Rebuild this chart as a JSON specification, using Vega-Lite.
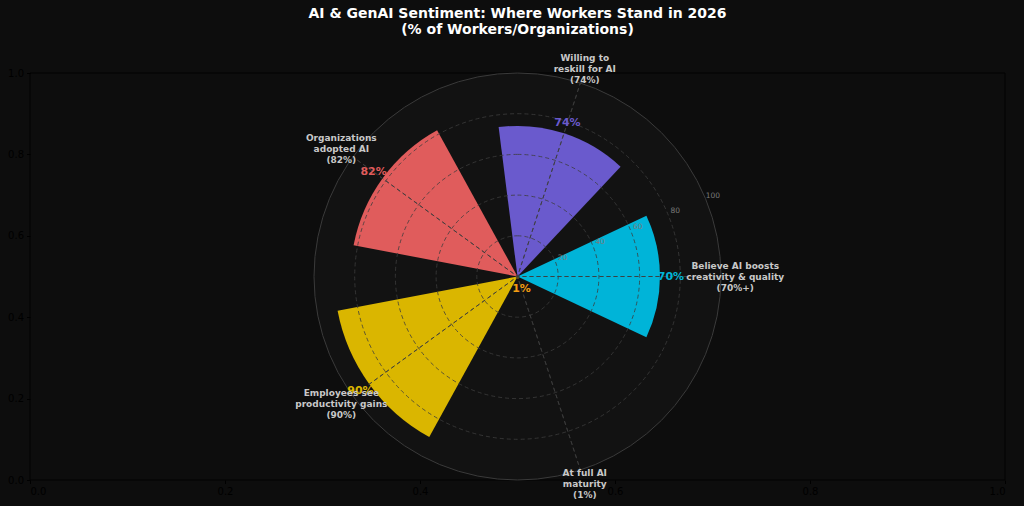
{
  "$schema": "https://vega.github.io/schema/vega-lite/v6.json",
  "width": 975,
  "height": 407,
  "autosize": {"type": "none"},
  "padding": {"left": 30, "top": 73, "right": 19, "bottom": 26},
  "background": "#0d0d0d",
  "config": {"view": {"stroke": null}, "font": "DejaVu Sans"},
  "title": {
    "text": ["AI & GenAI Sentiment: Where Workers Stand in 2026", "(% of Workers/Organizations)"],
    "color": "#ffffff",
    "fontSize": 14,
    "fontWeight": "bold",
    "font": "DejaVu Sans",
    "lineHeight": 16,
    "anchor": "middle",
    "offset": 17
  },
  "datasets": {
    "bars": [
      {"category": "Believe AI boosts creativity & quality", "label": "Believe AI boosts\ncreativity & quality\n(70%+)", "angle": 0, "value": 70, "pct": "70%"},
      {"category": "Willing to reskill for AI", "label": "Willing to\nreskill for AI\n(74%)", "angle": 72, "value": 74, "pct": "74%"},
      {"category": "Organizations adopted AI", "label": "Organizations\nadopted AI\n(82%)", "angle": 144, "value": 82, "pct": "82%"},
      {"category": "Employees see productivity gains", "label": "Employees see\nproductivity gains\n(90%)", "angle": 216, "value": 90, "pct": "90%"},
      {"category": "At full AI maturity", "label": "At full AI\nmaturity\n(1%)", "angle": 288, "value": 1, "pct": "1%"}
    ],
    "rings": [{"r": 20}, {"r": 40}, {"r": 60}, {"r": 80}, {"r": 100}],
    "one": [{}]
  },
  "layer": [
    {
      "data": {"name": "one"},
      "mark": {"type": "rect", "filled": false, "stroke": "#000000", "strokeWidth": 0.8},
      "encoding": {
        "x": {"datum": 0, "type": "quantitative", "scale": {"domain": [0, 1], "nice": false, "zero": false},
          "axis": {"values": [0, 0.2, 0.4, 0.6, 0.8, 1], "format": ".1f", "labelColor": "#000000", "tickColor": "#000000", "domain": false, "grid": false, "labelFontSize": 10, "labelFont": "DejaVu Sans", "tickSize": 3.5, "labelPadding": 3, "title": null}},
        "x2": {"datum": 1},
        "y": {"datum": 0, "type": "quantitative", "scale": {"domain": [0, 1], "nice": false, "zero": false},
          "axis": {"values": [0, 0.2, 0.4, 0.6, 0.8, 1], "format": ".1f", "labelColor": "#000000", "tickColor": "#000000", "domain": false, "grid": false, "labelFontSize": 10, "labelFont": "DejaVu Sans", "tickSize": 3.5, "labelPadding": 3, "title": null}},
        "y2": {"datum": 1}
      }
    },
    {
      "data": {"name": "one"},
      "mark": {"type": "arc", "theta": 0, "theta2": 6.283185307179586, "fill": "#121212"},
      "encoding": {
        "radius": {"datum": 100, "type": "quantitative", "stack": null, "scale": {"type": "linear", "domain": [0, 100], "range": [0, 203.5], "nice": false, "zero": true}}
      }
    },
    {
      "data": {"name": "bars"},
      "mark": {"type": "arc", "thetaOffset": -0.4398, "theta2Offset": 0.4398},
      "encoding": {
        "theta": {"field": "angle", "type": "quantitative", "stack": null, "scale": {"domain": [90, -270], "range": [0, 6.283185307179586], "nice": false, "zero": false}},
        "theta2": {"field": "angle"},
        "radius": {"field": "value", "type": "quantitative", "stack": null, "scale": {"type": "linear", "domain": [0, 100], "range": [0, 203.5], "nice": false, "zero": true}},
        "color": {"field": "category", "type": "nominal", "legend": null,
          "scale": {"domain": ["Believe AI boosts creativity & quality", "Willing to reskill for AI", "Organizations adopted AI", "Employees see productivity gains", "At full AI maturity"],
            "range": ["#00b4d8", "#6a5acd", "#e05c5c", "#dab600", "#f39c12"]}}
      }
    },
    {
      "data": {"name": "rings"},
      "transform": [{"filter": "datum.r < 100"}],
      "mark": {"type": "arc", "theta": 0, "theta2": 6.283185307179586, "filled": false, "stroke": "#3c3c3c", "strokeWidth": 0.8, "strokeDash": [4, 3]},
      "encoding": {
        "radius": {"field": "r", "type": "quantitative", "stack": null, "scale": {"type": "linear", "domain": [0, 100], "range": [0, 203.5], "nice": false, "zero": true}}
      }
    },
    {
      "data": {"name": "bars"},
      "mark": {"type": "arc", "filled": false, "stroke": "#3c3c3c", "strokeWidth": 0.8, "strokeDash": [4, 3], "strokeDashOffset": 1.5},
      "encoding": {
        "theta": {"field": "angle", "type": "quantitative", "stack": null, "scale": {"domain": [90, -270], "range": [0, 6.283185307179586], "nice": false, "zero": false}},
        "theta2": {"field": "angle"},
        "radius": {"datum": 100, "type": "quantitative", "stack": null, "scale": {"type": "linear", "domain": [0, 100], "range": [0, 203.5], "nice": false, "zero": true}}
      }
    },
    {
      "data": {"name": "one"},
      "mark": {"type": "arc", "theta": 0, "theta2": 6.283185307179586, "filled": false, "stroke": "#3a3a3a", "strokeWidth": 1},
      "encoding": {
        "radius": {"datum": 100, "type": "quantitative", "stack": null, "scale": {"type": "linear", "domain": [0, 100], "range": [0, 203.5], "nice": false, "zero": true}}
      }
    },
    {
      "data": {"name": "rings"},
      "mark": {"type": "text", "radiusOffset": 8, "fontSize": 7.5, "fill": "#7a7a7a", "align": "center", "baseline": "middle"},
      "encoding": {
        "theta": {"datum": 22.5, "type": "quantitative", "stack": null, "scale": {"domain": [90, -270], "range": [0, 6.283185307179586], "nice": false, "zero": false}},
        "radius": {"field": "r", "type": "quantitative", "stack": null, "scale": {"type": "linear", "domain": [0, 100], "range": [0, 203.5], "nice": false, "zero": true}},
        "text": {"field": "r", "type": "quantitative"}
      }
    },
    {
      "data": {"name": "bars"},
      "mark": {"type": "text", "radiusOffset": 11, "fontSize": 11, "fontWeight": "bold", "align": "center", "baseline": "middle"},
      "encoding": {
        "theta": {"field": "angle", "type": "quantitative", "stack": null, "scale": {"domain": [90, -270], "range": [0, 6.283185307179586], "nice": false, "zero": false}},
        "radius": {"field": "value", "type": "quantitative", "stack": null, "scale": {"type": "linear", "domain": [0, 100], "range": [0, 203.5], "nice": false, "zero": true}},
        "text": {"field": "pct", "type": "nominal"},
        "color": {"field": "category", "type": "nominal", "legend": null,
          "scale": {"domain": ["Believe AI boosts creativity & quality", "Willing to reskill for AI", "Organizations adopted AI", "Employees see productivity gains", "At full AI maturity"],
            "range": ["#00b4d8", "#6a5acd", "#e05c5c", "#dab600", "#f39c12"]}}
      }
    },
    {
      "data": {"name": "bars"},
      "mark": {"type": "text", "fontSize": 9, "fontWeight": "bold", "fill": "#c8c8c8", "align": "center", "baseline": "middle", "lineBreak": "\n", "lineHeight": 11, "dy": -11},
      "encoding": {
        "theta": {"field": "angle", "type": "quantitative", "stack": null, "scale": {"domain": [90, -270], "range": [0, 6.283185307179586], "nice": false, "zero": false}},
        "radius": {"datum": 107, "type": "quantitative", "stack": null, "scale": {"type": "linear", "domain": [0, 100], "range": [0, 203.5], "nice": false, "zero": true}},
        "text": {"field": "label", "type": "nominal"}
      }
    }
  ]
}
